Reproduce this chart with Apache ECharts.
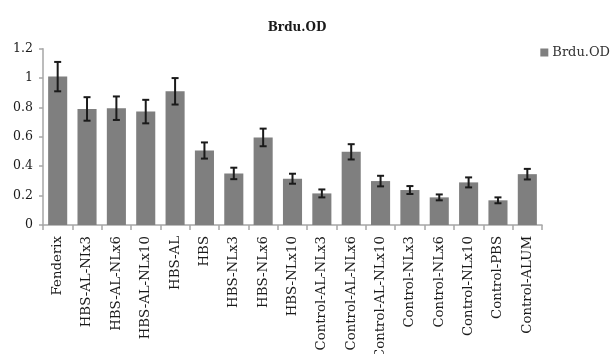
<!DOCTYPE html>
<html>
<head>
<meta charset="utf-8">
<script src="https://cdn.jsdelivr.net/npm/echarts@6/dist/echarts.min.js"></script>
<style>
html,body{margin:0;padding:0;background:#fff;}
#chart{width:616px;height:354px;}
</style>
</head>
<body>
<div id="chart"></div>
<script>
var categories = ['Fenderix','HBS-AL-NIx3','HBS-AL-NLx6','HBS-AL-NLx10','HBS-AL','HBS','HBS-NLx3','HBS-NLx6','HBS-NLx10','Control-AL-NLx3','Control-AL-NLx6','Control-AL-NLx10','Control-NLx3','Control-NLx6','Control-NLx10','Control-PBS','Control-ALUM'];
var values = [1.01,0.79,0.795,0.772,0.91,0.507,0.351,0.596,0.315,0.215,0.498,0.299,0.238,0.188,0.29,0.168,0.346];
var errors = [0.10,0.08,0.08,0.08,0.09,0.055,0.039,0.06,0.034,0.027,0.052,0.036,0.027,0.02,0.034,0.02,0.036];
var yTicks = [0,0.2,0.4,0.6,0.8,1,1.2];

var FONT = 'DejaVu Serif';
var chart = echarts.init(document.getElementById('chart'));
var errData = values.map(function(v,i){ return [i, v - errors[i], v + errors[i]]; });
chart.setOption({
  animation:false,
  title:{text:'Brdu.OD', left:292, top:17, textAlign:'center',
    textStyle:{fontFamily:FONT, fontSize:12, fontWeight:'bold', color:'#1a1a1a'}},
  legend:{right:1, top:41, itemWidth:8, itemHeight:8, itemGap:4,
    icon:'rect', textStyle:{fontFamily:FONT, fontSize:13, color:'#333', padding:[0,0,0,-1]},
    data:['Brdu.OD']},
  grid:{left:43, right:74, top:48.7, bottom:129, containLabel:false, outerBoundsMode:'none'},
  xAxis:{type:'category', data:categories,
    axisLine:{lineStyle:{color:'#a6a6a6', width:1.5}},
    axisTick:{show:true, alignWithLabel:false, length:5, lineStyle:{color:'#a6a6a6', width:1.5}},
    axisLabel:{rotate:90, interval:0, margin:11, fontFamily:FONT, fontSize:13.3, color:'#1a1a1a'}},
  yAxis:{type:'value', min:yTicks[0], max:yTicks[yTicks.length-1], interval:0.2,
    axisLine:{show:true, lineStyle:{color:'#a6a6a6', width:1.5}},
    axisTick:{show:true, inside:false, length:4, lineStyle:{color:'#a6a6a6', width:1.5}},
    splitLine:{show:false},
    axisLabel:{margin:10, fontFamily:FONT, fontSize:12.5, color:'#1a1a1a'}},
  series:[
    {name:'Brdu.OD', type:'bar', data:values, barCategoryGap:'35%',
     itemStyle:{color:'#7f7f7f'}},
    {name:'err', type:'custom', data:errData, z:10,
     renderItem:function(params, api){
       var x = api.value(0);
       var lo = api.coord([x, api.value(1)]);
       var hi = api.coord([x, api.value(2)]);
       var hw = 3.5;
       var st = {stroke:'#1a1a1a', lineWidth:2};
       return {type:'group', children:[
         {type:'line', shape:{x1:lo[0], y1:lo[1], x2:hi[0], y2:hi[1]}, style:st},
         {type:'line', shape:{x1:lo[0]-hw, y1:lo[1], x2:lo[0]+hw, y2:lo[1]}, style:st},
         {type:'line', shape:{x1:hi[0]-hw, y1:hi[1], x2:hi[0]+hw, y2:hi[1]}, style:st}
       ]};
     }}
  ]
});
</script>
</body>
</html>
